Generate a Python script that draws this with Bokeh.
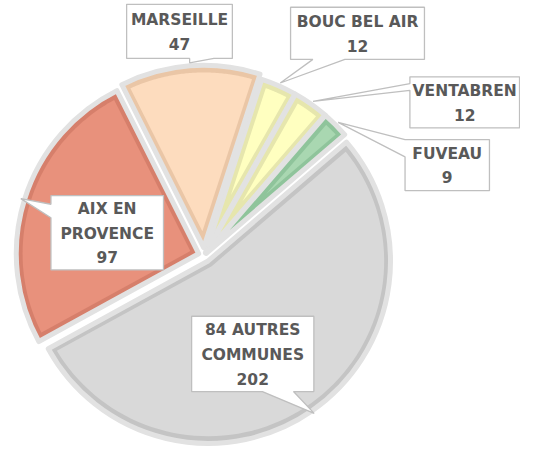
import numpy as np
from bokeh.plotting import figure
from bokeh.models import Range1d
from bokeh.core.properties import value
from bokeh.embed import file_html
from bokeh.resources import INLINE

# ---------------- data ----------------
categories = ["BOUC BEL AIR", "VENTABREN", "FUVEAU", "84 AUTRES COMMUNES", "AIX EN PROVENCE", "MARSEILLE"]
counts = [12, 12, 9, 202, 97, 47]
label_lines = [["BOUC BEL AIR"], ["VENTABREN"], ["FUVEAU"],
               ["84 AUTRES", "COMMUNES"], ["AIX EN", "PROVENCE"], ["MARSEILLE"]]

# ---------------- style ----------------
fills = ["#ffffc0", "#ffffc0", "#a9d7b1", "#d9d9d9", "#e8917c", "#fddcbe"]
bands = ["#e6e6ad", "#e6e6ad", "#8fc49b", "#c4c4c4", "#d67f6b", "#eac6a6"]
explode = [3, 3, 3, 7, 6, 8]
OUTLINE = "#e2e2e2"
FIRST_ANGLE = 18.0          # degrees, clockwise from 12 o'clock
W, H = 536, 465             # reference coordinate space (pixels, y down)
CX, CY, R = 210, H - 264, 188
BAND = 6.5

# callout layout in reference pixels (x0, y0, x1, y1), pointer side, pointer base
boxes = [(299, 7, 437, 61, "bottom", 322, 355),
         (422, 79, 535, 132, "left", 86, 93),
         (417, 144, 504, 197, "left", 144, 162),
         (197, 327, 323, 405, "bottom", 270, 302),
         (52, 202, 168, 279, "left", 211, 225),
         (130, 4, 239, 60, "bottom", 195, 220)]

total = float(sum(counts))
spans = np.array(counts) / total * 360.0
starts = FIRST_ANGLE + np.concatenate([[0], np.cumsum(spans)[:-1]])
ends = starts + spans
mids = (starts + ends) / 2.0


def u(theta_deg):
    t = np.radians(theta_deg)
    return np.sin(t), np.cos(t)


p = figure(width=520, height=449, output_backend="svg", toolbar_location=None,
           x_range=Range1d(0, W), y_range=Range1d(0, H), min_border=0,
           background_fill_color="white", border_fill_color="white")
p.axis.visible = False
p.grid.visible = False
p.outline_line_color = None

ax, ay = [], []
for e, m in zip(explode, mids):
    ux, uy = u(m)
    ax.append(CX + e * ux)
    ay.append(CY + e * uy)

# outer wedges (band colour + light outline)
p.wedge(x=ax, y=ay, radius=R,
        start_angle=list(np.radians(90 - ends)), end_angle=list(np.radians(90 - starts)),
        fill_color=bands, line_color=OUTLINE, line_width=5, line_join="round")

# inner fills (inset wedges)
xs, ys = [], []
for i in range(len(counts)):
    alpha = np.radians(spans[i] / 2.0)
    d = BAND / np.sin(alpha)
    mx, my = u(mids[i])
    apx, apy = ax[i] + d * mx, ay[i] + d * my
    r_in = R - BAND
    s = np.sqrt(r_in ** 2 - BAND ** 2)
    delta = np.degrees(np.arctan2(BAND, s))
    th = np.linspace(starts[i] + delta, ends[i] - delta, 80)
    px = [apx] + list(ax[i] + r_in * np.sin(np.radians(th)))
    py = [apy] + list(ay[i] + r_in * np.cos(np.radians(th)))
    xs.append(px)
    ys.append(py)
p.patches(xs=xs, ys=ys, fill_color=fills, line_color=None)

# callouts
cx_list, cy_list = [], []
tx, ty, texts = [], [], []
for i, b in enumerate(boxes):
    x0, y0, x1, y1, side, b0, b1 = b
    Y0, Y1 = H - y0, H - y1
    mx, my = u(mids[i])
    tipx, tipy = ax[i] + (R + 4) * mx, ay[i] + (R + 4) * my
    if side == "bottom":
        px = [x0, x1, x1, b1, tipx, b0, x0]
        py = [Y0, Y0, Y1, Y1, tipy, Y1, Y1]
    else:
        px = [x0, x1, x1, x0, x0, tipx, x0]
        py = [Y0, Y0, Y1, Y1, H - b1, tipy, H - b0]
    cx_list.append(px)
    cy_list.append(py)
    tx.append((x0 + x1) / 2.0)
    ty.append(H - ((y0 + y1) / 2.0 + 1))
    texts.append("\n".join(label_lines[i] + [str(counts[i])]))

p.patches(xs=cx_list, ys=cy_list, fill_color="white", line_color="#bfbfbf", line_width=1.3)
p.text(x=tx, y=ty, text=texts, text_align="center", text_baseline="middle",
       text_font=value("DejaVu Sans"), text_font_style="bold", text_font_size="15.5px",
       text_color="#595959", text_line_height=1.37)

open("out.html", "w").write(file_html(p, INLINE))
